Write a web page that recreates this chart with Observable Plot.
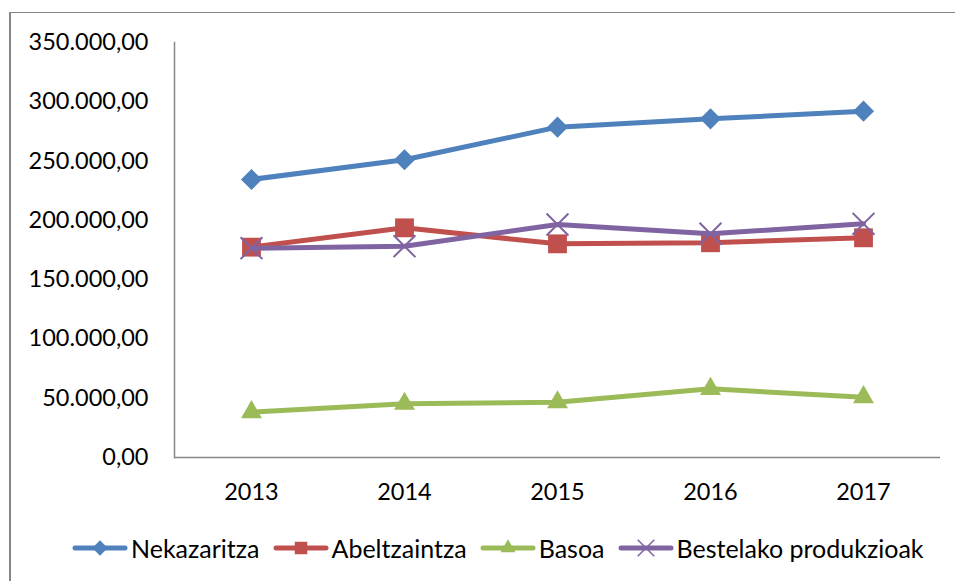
<!DOCTYPE html>
<html><head><meta charset="utf-8">
<script src="https://cdn.jsdelivr.net/npm/d3@7"></script>
<script src="https://cdn.jsdelivr.net/npm/@observablehq/plot@0.6"></script>
<style>
body{margin:0;background:#fff;font-family:Lato, sans-serif;}
#wrap{position:relative;width:955px;height:581px;overflow:hidden;background:#fff;}
#border{position:absolute;left:9px;top:12px;right:-5px;bottom:-5px;border-top:1px solid #868686;border-left:2px solid #868686;}
#chart{position:absolute;left:0;top:0;}
#legend{position:absolute;left:72px;top:533px;display:flex;align-items:center;font-size:25px;color:#000;white-space:nowrap;}
.item{display:flex;align-items:center;margin-right:13px;}
.item svg{margin-right:3px;}
</style></head><body>
<div id="wrap"><div id="border"></div><div id="chart"></div><div id="legend"></div></div>
<script>
const years = ["2013", "2014", "2015", "2016", "2017"];
const seriesNames = ["Nekazaritza", "Abeltzaintza", "Basoa", "Bestelako produkzioak"];
const nekazaritza = [234500, 251100, 278600, 285600, 292100];
const abeltzaintza = [177400, 193700, 180200, 181100, 185300];
const basoa = [38200, 45300, 46600, 57900, 50900];
const bestelako = [176500, 178200, 196500, 188700, 197100];
const yTicks = [0, 50000, 100000, 150000, 200000, 250000, 300000, 350000];

const colors = ["#4F81BD", "#C0504D", "#9BBB59", "#8064A2"];
const symbols = ["diamond2", "square2", "triangle2", "times"];
const radii = [9.5, 12, 10, 10];
const values = [nekazaritza, abeltzaintza, basoa, bestelako];

const fmt = d3.formatLocale({decimal: ",", thousands: ".", grouping: [3], currency: ["", "€"]}).format(",.2f");

const marks = [
  Plot.axisY({ticks: yTicks, tickSize: 0, tickPadding: 26, tickFormat: fmt, label: null}),
  Plot.axisX({tickSize: 0, tickPadding: 26, label: null}),
  Plot.frame({anchor: "left", stroke: "#868686", strokeWidth: 1.5}),
  Plot.ruleY([0], {stroke: "#868686", strokeWidth: 1.5})
];
values.forEach((vals, i) => {
  const data = years.map((y, j) => ({year: y, value: vals[j]}));
  marks.push(Plot.line(data, {x: "year", y: "value", stroke: colors[i], strokeWidth: 5}));
  const isTimes = symbols[i] === "times";
  marks.push(Plot.dot(data, {
    x: "year", y: "value", symbol: symbols[i], r: radii[i],
    fill: isTimes ? "none" : colors[i],
    stroke: isTimes ? colors[i] : "none",
    strokeWidth: isTimes ? 2 : 0
  }));
});

const chart = Plot.plot({
  width: 955, height: 500,
  marginLeft: 174, marginRight: 15, marginTop: 42, marginBottom: 43,
  style: {fontSize: "23.5px", fontFamily: "Lato, sans-serif", color: "#000", background: "transparent", overflow: "visible"},
  x: {type: "point", domain: years, padding: 0.5},
  y: {domain: [0, 350000]},
  marks
});
document.getElementById("chart").appendChild(chart);

// legend
const legend = document.getElementById("legend");
const symTypes = [d3.symbolDiamond2, d3.symbolSquare2, d3.symbolTriangle2, d3.symbolTimes];
const symSizes = [150, 200, 160, 180];
seriesNames.forEach((name, i) => {
  const item = document.createElement("div");
  item.className = "item";
  const svg = d3.create("svg").attr("width", 56).attr("height", 24);
  svg.append("line").attr("x1", 3).attr("x2", 53).attr("y1", 12).attr("y2", 12)
    .attr("stroke", colors[i]).attr("stroke-width", 5).attr("stroke-linecap", "round");
  const isTimes = i === 3;
  svg.append("path").attr("transform", "translate(28,12)")
    .attr("d", d3.symbol(symTypes[i], symSizes[i])())
    .attr("fill", isTimes ? "none" : colors[i])
    .attr("stroke", isTimes ? colors[i] : "none").attr("stroke-width", 1.5);
  item.appendChild(svg.node());
  const span = document.createElement("span");
  span.textContent = name;
  item.appendChild(span);
  legend.appendChild(item);
});
</script>
</body></html>
